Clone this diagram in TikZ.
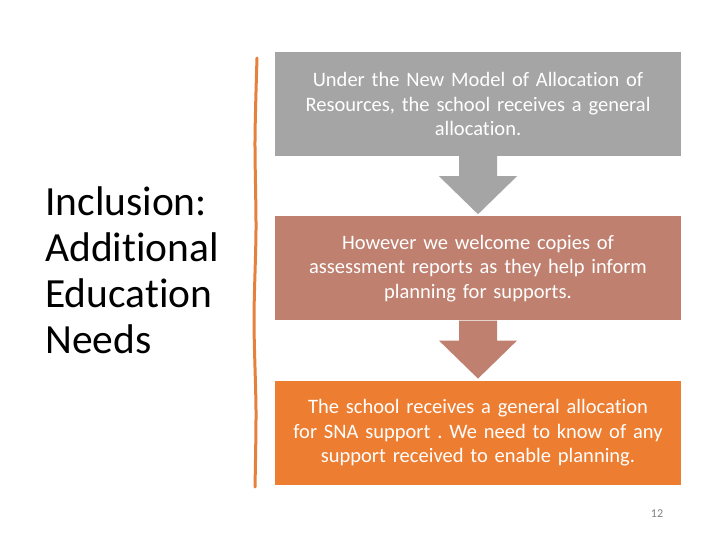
\documentclass[tikz,border=0pt]{standalone}
\usepackage{fontspec}
\setmainfont{Carlito}[Ligatures={NoCommon}]
\usetikzlibrary{positioning}
\frenchspacing
\definecolor{boxgray}{HTML}{A5A5A5}
\definecolor{boxrose}{HTML}{C0806F}
\definecolor{boxorange}{HTML}{ED7D31}
\definecolor{rulecol}{HTML}{E5813C}
\newcommand{\flowarrow}[3]{%
  \fill[#3] ([xshift=-19pt]#1.south) -- ([xshift=-19pt,yshift=-20pt]#1.south)
    -- ([xshift=-39pt,yshift=-20pt]#1.south) -- ([yshift=2pt]#2.north)
    -- ([xshift=39pt,yshift=-20pt]#1.south) -- ([xshift=19pt,yshift=-20pt]#1.south)
    -- ([xshift=19pt]#1.south) -- cycle;}
\tikzset{
  stepbox/.style={minimum width=406pt, minimum height=104pt, inner sep=0pt,
    text width=400pt, align=center, text=white,
    font=\fontsize{20.5}{24.5}\selectfont},
}
\begin{document}
\begin{tikzpicture}[x=1pt,y=-1pt]
\useasboundingbox[fill=white] (0,0) rectangle (720,540);
% left title
\node[anchor=west, align=left, inner sep=0pt, font=\fontsize{41.5}{46}\selectfont] (title) at (45,270)
  {Inclusion:\\Additional\\Education\\Needs};
% vertical rule
\draw[rulecol, line width=3pt, line cap=round] plot[smooth] coordinates
  {(257,58) (255,140) (256,230) (254,320) (256,410) (255,487)};
% flow boxes
\node[stepbox, fill=boxgray] (box1) at (478,104)
  {Under the New Model of Allocation of\\Resources, the school receives a general\\allocation.};
\node[stepbox, fill=boxrose, below=60pt of box1] (box2)
  {However we welcome copies of\\assessment reports as they help inform\\planning for supports.};
\node[stepbox, fill=boxorange, below=60pt of box2] (box3)
  {The school receives a general allocation\\for SNA support . We need to know of any\\support received to enable planning.};
\flowarrow{box1}{box2}{boxgray}
\flowarrow{box2}{box3}{boxrose}
% page number
\node[text=gray, font=\fontsize{12}{14}\selectfont] (pagenum) at (657,514) {12};
\end{tikzpicture}
\end{document}
